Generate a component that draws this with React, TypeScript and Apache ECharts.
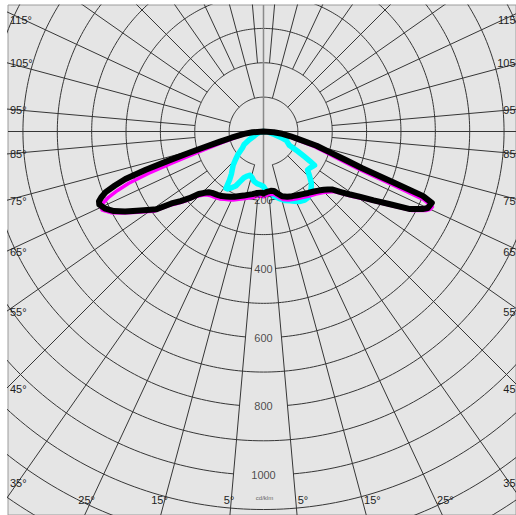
import React, { useEffect, useRef } from "react";
import * as echarts from "echarts";

// ---------- data (cd/klm, angle gamma in degrees from nadir, negative = left) ----------
const blackAngles = [-90, -86, -83, -79, -77, -75, -74, -73, -72, -71, -70, -69, -68, -67, -66, -64, -62, -60, -58, -56, -54, -52, -50, -48, -46, -44, -42, -40, -36, -33, -30, -27, -24, -20, -17, -14, -10, -6, -2, 0, 3, 7, 10, 13, 16, 20, 24, 28, 32, 36, 40, 43, 46, 48, 50, 52, 54, 56, 58, 60, 62, 63, 64, 65, 67, 68, 68.6, 69.6, 71, 73, 75, 78, 80, 83, 86, 90];
const blackValues = [0, 32, 57, 95, 130, 185, 225, 285, 360, 425, 460, 492, 508, 520, 523, 512, 493, 465, 435, 408, 385, 340, 315, 290, 262, 248, 238, 233, 228, 224, 218, 213, 208, 200, 195, 190, 185, 180, 178, 180, 176, 174, 176, 186, 196, 202, 206, 210, 215, 221, 228, 235, 244, 252, 263, 286, 312, 340, 378, 422, 480, 496, 515, 527, 532, 500, 410, 305, 250, 195, 160, 100, 80, 55, 30, 0];

const magentaAngles = [-90, -85, -81, -77, -75, -73, -72, -71, -70, -69, -68, -67, -66, -65, -64, -62, -60, -58, -56, -54, -52, -50, -48, -46, -44, -42, -40, -36, -33, -30, -27, -24, -20, -17, -14, -10, -6, -2, 0, 3, 7, 10, 13, 16, 20, 24, 28, 32, 36, 40, 43, 46, 48, 50, 52, 54, 56, 58, 60, 62, 63, 64, 65, 66, 67, 67.5, 68.3, 69.5, 71.5, 73.5, 76.5, 79, 82, 85, 90];
const magentaValues = [0, 30, 55, 90, 125, 180, 222, 282, 355, 420, 458, 490, 510, 522, 522, 503, 475, 445, 418, 395, 350, 325, 300, 272, 258, 248, 243, 238, 234, 228, 223, 218, 210, 205, 200, 195, 190, 188, 190, 186, 184, 186, 196, 206, 212, 216, 220, 225, 231, 238, 245, 254, 262, 273, 296, 322, 350, 388, 432, 490, 506, 525, 535, 538, 505, 412, 305, 248, 192, 155, 95, 75, 50, 28, 0];

const cyanAngles = [-90, -78, -70, -64, -60, -56, -52, -48, -45, -42, -39, -37, -35, -33.5, -32, -30, -27, -25, -23, -20, -17, -14, -11, -7, -3, 0, 4, 9, 14, 17, 21, 24, 27, 31, 34, 37, 40, 43, 46, 49, 52, 55, 56.5, 57.5, 58.5, 60, 62, 66, 68.5, 71, 74.5, 80, 86, 90];
const cyanValues = [0, 12, 22, 30, 48, 68, 78, 100, 115, 132, 145, 155, 172, 198, 197, 190, 178, 160, 146, 138, 133, 138, 147, 153, 156, 160, 180, 190, 202, 210, 216, 222, 229, 233, 232, 225, 216, 204, 186, 170, 172, 176, 178, 160, 140, 115, 85, 76, 72, 55, 33, 18, 8, 0];

// grid ticks
const circleValues = [100, 200, 300, 400, 500, 600, 700, 800, 900, 1000, 1100, 1200, 1300, 1400];
const labelledCircles = [200, 400, 600, 800, 1000];
const valueLabels = ["200", "400", "600", "800", "1000"];
const spokeAngles = Array.from({ length: 36 }, (_, i) => 5 + i * 10);
const longSpokes = [15, 45, 75, 105, 135, 165, 195, 225, 255, 285, 315, 345];
const sideLabelAngles = [115, 105, 95, 85, 75, 65, 55, 45, 35];
const bottomLabelAngles = [25, 15, 5];
const unitLabel = "cd/klm";

// ---------- layout ----------
const W = 516;
const H = 515;
const FRAME_L = 8;
const FRAME_T = 5;
const GRID_W = 510;
const GRID_H = 512;
const CX = 264.5;
const CY = 132;
const PX = 0.345; // px per cd/klm

const X_MIN = (FRAME_L - CX) / PX;
const X_MAX = (FRAME_L + GRID_W - CX) / PX;
const Y_MAX = (CY - FRAME_T) / PX;
const Y_MIN = -(FRAME_T + GRID_H - CY) / PX;

const GRID_COLOR = "#363636";
const FONT = '11px "Liberation Sans", Arial, sans-serif';

function polar(deg: number, v: number): [number, number] {
  const r = (deg * Math.PI) / 180;
  return [v * Math.sin(r), -v * Math.cos(r)];
}

function gridLine(points: any[], color = GRID_COLOR, width = 1): any {
  return {
    type: "line",
    data: points,
    symbol: "none",
    showSymbol: false,
    silent: true,
    clip: true,
    z: 1,
    lineStyle: { color, width },
  };
}

function curve(angles: number[], values: number[], color: string, width: number, z: number): any {
  return {
    type: "line",
    data: angles.map((a, i) => polar(a, values[i])),
    symbol: "none",
    showSymbol: false,
    silent: true,
    clip: true,
    z,
    lineStyle: { color, width, cap: "round", join: "round" },
  };
}

function buildOption(): any {
  const series: any[] = [];
  circleValues.forEach((v) => {
    const gap = v === 100 ? 15 : labelledCircles.includes(v) ? 5 : 0;
    const pts: [number, number][] = [];
    for (let a = gap; a <= 360 - gap; a += 1) pts.push(polar(a, v));
    series.push(gridLine(pts));
  });
  spokeAngles.forEach((a) => {
    const start = longSpokes.includes(a) ? 100 : 200;
    series.push(gridLine([polar(a, start), polar(a, 1500)]));
  });
  series.push(gridLine([[X_MIN, 0], [X_MAX, 0]]));
  series.push(gridLine([[0, Y_MAX], [0, -155]], "#8a8a8a", 1.5));

  series.push(curve(cyanAngles, cyanValues, "#00ffff", 5.5, 3));
  series.push(curve(magentaAngles, magentaValues, "#ff00ff", 3.5, 4));
  series.push(curve(blackAngles, blackValues, "#000000", 6, 5));

  series.push({
    type: "scatter",
    data: labelledCircles.map((v) => [0, -v]),
    symbolSize: 1,
    itemStyle: { color: "rgba(0,0,0,0)" },
    silent: true,
    z: 6,
    label: {
      show: true,
      position: "inside",
      formatter: (p: any) => valueLabels[p.dataIndex],
      color: "#1e1e1e",
      fontSize: 11,
      fontFamily: '"Liberation Sans", Arial, sans-serif',
    },
  });

  const graphic: any[] = [];
  sideLabelAngles.forEach((a) => {
    const r = (a * Math.PI) / 180;
    let y = CY + ((CX - FRAME_L) * Math.cos(r)) / Math.sin(r);
    y = Math.max(20, Math.min(483, y));
    graphic.push({
      type: "text", x: 10, y, z: 10,
      style: { text: `${a}°`, font: FONT, fill: "#1e1e1e", textAlign: "left", textVerticalAlign: "middle" },
    });
    graphic.push({
      type: "text", x: 520, y, z: 10,
      style: { text: `${a}°`, font: FONT, fill: "#1e1e1e", textAlign: "right", textVerticalAlign: "middle" },
    });
  });
  bottomLabelAngles.forEach((a) => {
    const dx = (500 - CY) * Math.tan((a * Math.PI) / 180);
    graphic.push({
      type: "text", x: CX - dx + 2, y: 500, z: 10,
      style: { text: `${a}°`, font: FONT, fill: "#1e1e1e", textAlign: "right", textVerticalAlign: "middle" },
    });
    graphic.push({
      type: "text", x: CX + dx + 1, y: 500, z: 10,
      style: { text: `${a}°`, font: FONT, fill: "#1e1e1e", textAlign: "left", textVerticalAlign: "middle" },
    });
  });
  graphic.push({
    type: "text", x: CX, y: 498, z: 10,
    style: { text: unitLabel, font: '6px "Liberation Sans", Arial, sans-serif', fill: "#666", textAlign: "center", textVerticalAlign: "middle" },
  });

  return {
    animation: false,
    backgroundColor: "#ffffff",
    grid: {
      left: FRAME_L,
      top: FRAME_T,
      width: GRID_W,
      height: GRID_H,
      show: true,
      backgroundColor: "#e5e5e5",
      borderColor: "#9c9c9c",
      borderWidth: 1,
    },
    xAxis: { type: "value", min: X_MIN, max: X_MAX, show: false },
    yAxis: { type: "value", min: Y_MIN, max: Y_MAX, show: false },
    series,
    graphic,
  };
}

export default function App() {
  const ref = useRef<HTMLDivElement>(null);
  useEffect(() => {
    if (!ref.current) return;
    const chart = echarts.init(ref.current, undefined, { renderer: "svg" });
    chart.setOption(buildOption());
    return () => chart.dispose();
  }, []);
  return (
    <div
      ref={ref}
      style={{ position: "absolute", left: 0, top: 0, width: W, height: H, background: "#fff" }}
    />
  );
}
